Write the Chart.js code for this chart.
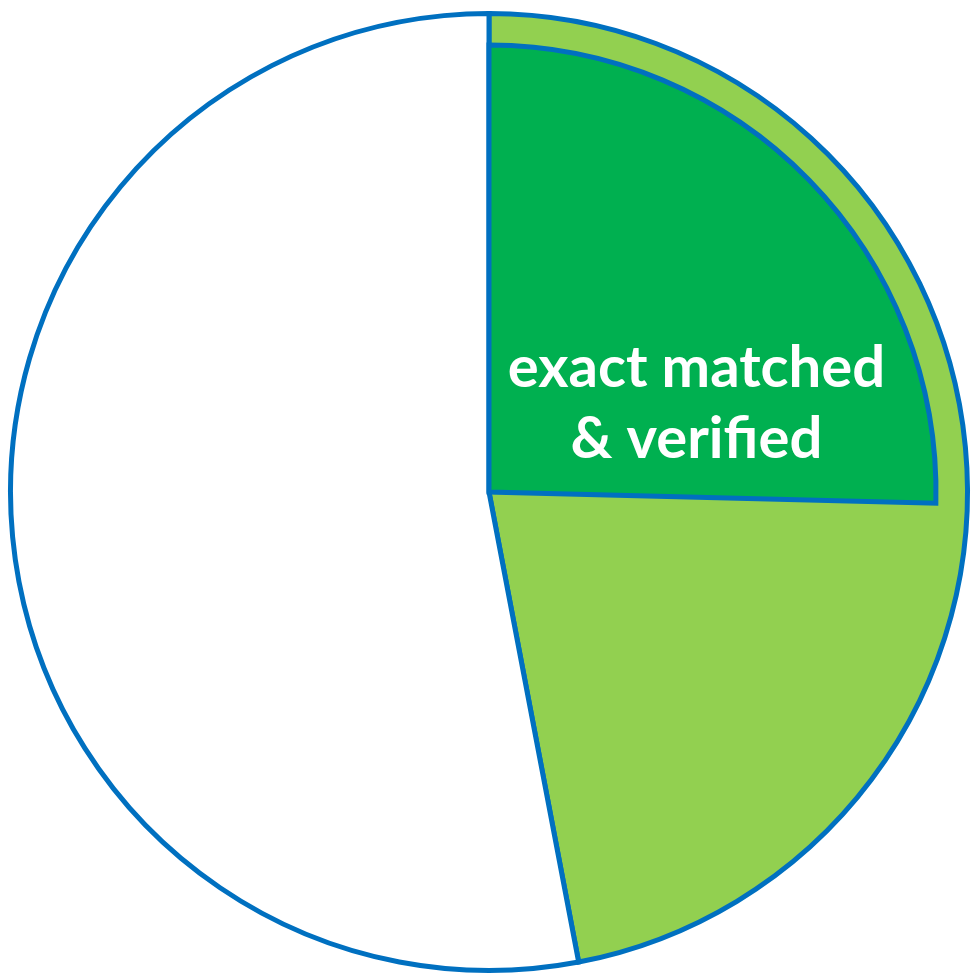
<!DOCTYPE html>
<html>
<head>
<meta charset="utf-8">
<title>Match pie</title>
<script src="https://cdn.jsdelivr.net/npm/chart.js@4"></script>
<style>
    html, body { margin: 0; padding: 0; background: #fff; }
    #wrap { position: relative; width: 979px; height: 980px; }
    #wrap canvas { position: absolute; left: 0; top: 0; }
</style>
</head>
<body>
<div id="wrap">
    <canvas id="outerPie" width="979" height="980"></canvas>
    <canvas id="innerPie" width="979" height="980"></canvas>
</div>
<script>
// outer pie: matched vs not matched (percent)
const outerLabels = ['matched', 'not matched'];
const outerValues = [47, 53];
const outerColors = ['#92D050', '#FFFFFF'];

// inner overlay slice: exact matched & verified (rest left empty)
const innerLabels = ['exact matched & verified', ''];
const innerValues = [25.4, 74.6];
const innerColors = ['#00B050', 'rgba(0,0,0,0)'];
const innerText = ['exact matched', '& verified'];

const lineBlue = '#0070C0';

const sharedOptions = {
    responsive: false,
    animation: false,
    layout: { padding: { left: 8, right: 9, top: 11, bottom: 7 } },
    plugins: { legend: { display: false }, tooltip: { enabled: false } }
};

new Chart(document.getElementById('outerPie'), {
    type: 'pie',
    data: {
        labels: outerLabels,
        datasets: [{
            data: outerValues,
            backgroundColor: outerColors,
            borderColor: lineBlue,
            borderWidth: 5,
            borderJoinStyle: 'miter'
        }]
    },
    options: sharedOptions
});

/**
 * Writes the label inside the dark green slice
 */
const sliceLabel = {
    id: 'sliceLabel',
    afterDatasetsDraw(chart) {
        const arc = chart.getDatasetMeta(0).data[0];
        const { x, y, outerRadius } = arc.getProps(['x', 'y', 'outerRadius'], true);
        const ctx = chart.ctx;
        ctx.save();
        ctx.fillStyle = '#FFFFFF';
        ctx.font = 'bold 58px Lato';
        ctx.textAlign = 'center';
        ctx.textBaseline = 'alphabetic';
        const cx = x + outerRadius * 0.464;
        ctx.fillText(innerText[0], cx, y - outerRadius * 0.235);
        ctx.fillText(innerText[1], cx, y - outerRadius * 0.076);
        ctx.restore();
    }
};

new Chart(document.getElementById('innerPie'), {
    type: 'pie',
    data: {
        labels: innerLabels,
        datasets: [{
            data: innerValues,
            backgroundColor: innerColors,
            borderColor: lineBlue,
            borderWidth: [5, 0],
            borderJoinStyle: 'miter'
        }]
    },
    options: Object.assign({}, sharedOptions, { radius: 447 }),
    plugins: [sliceLabel]
});
</script>
</body>
</html>
